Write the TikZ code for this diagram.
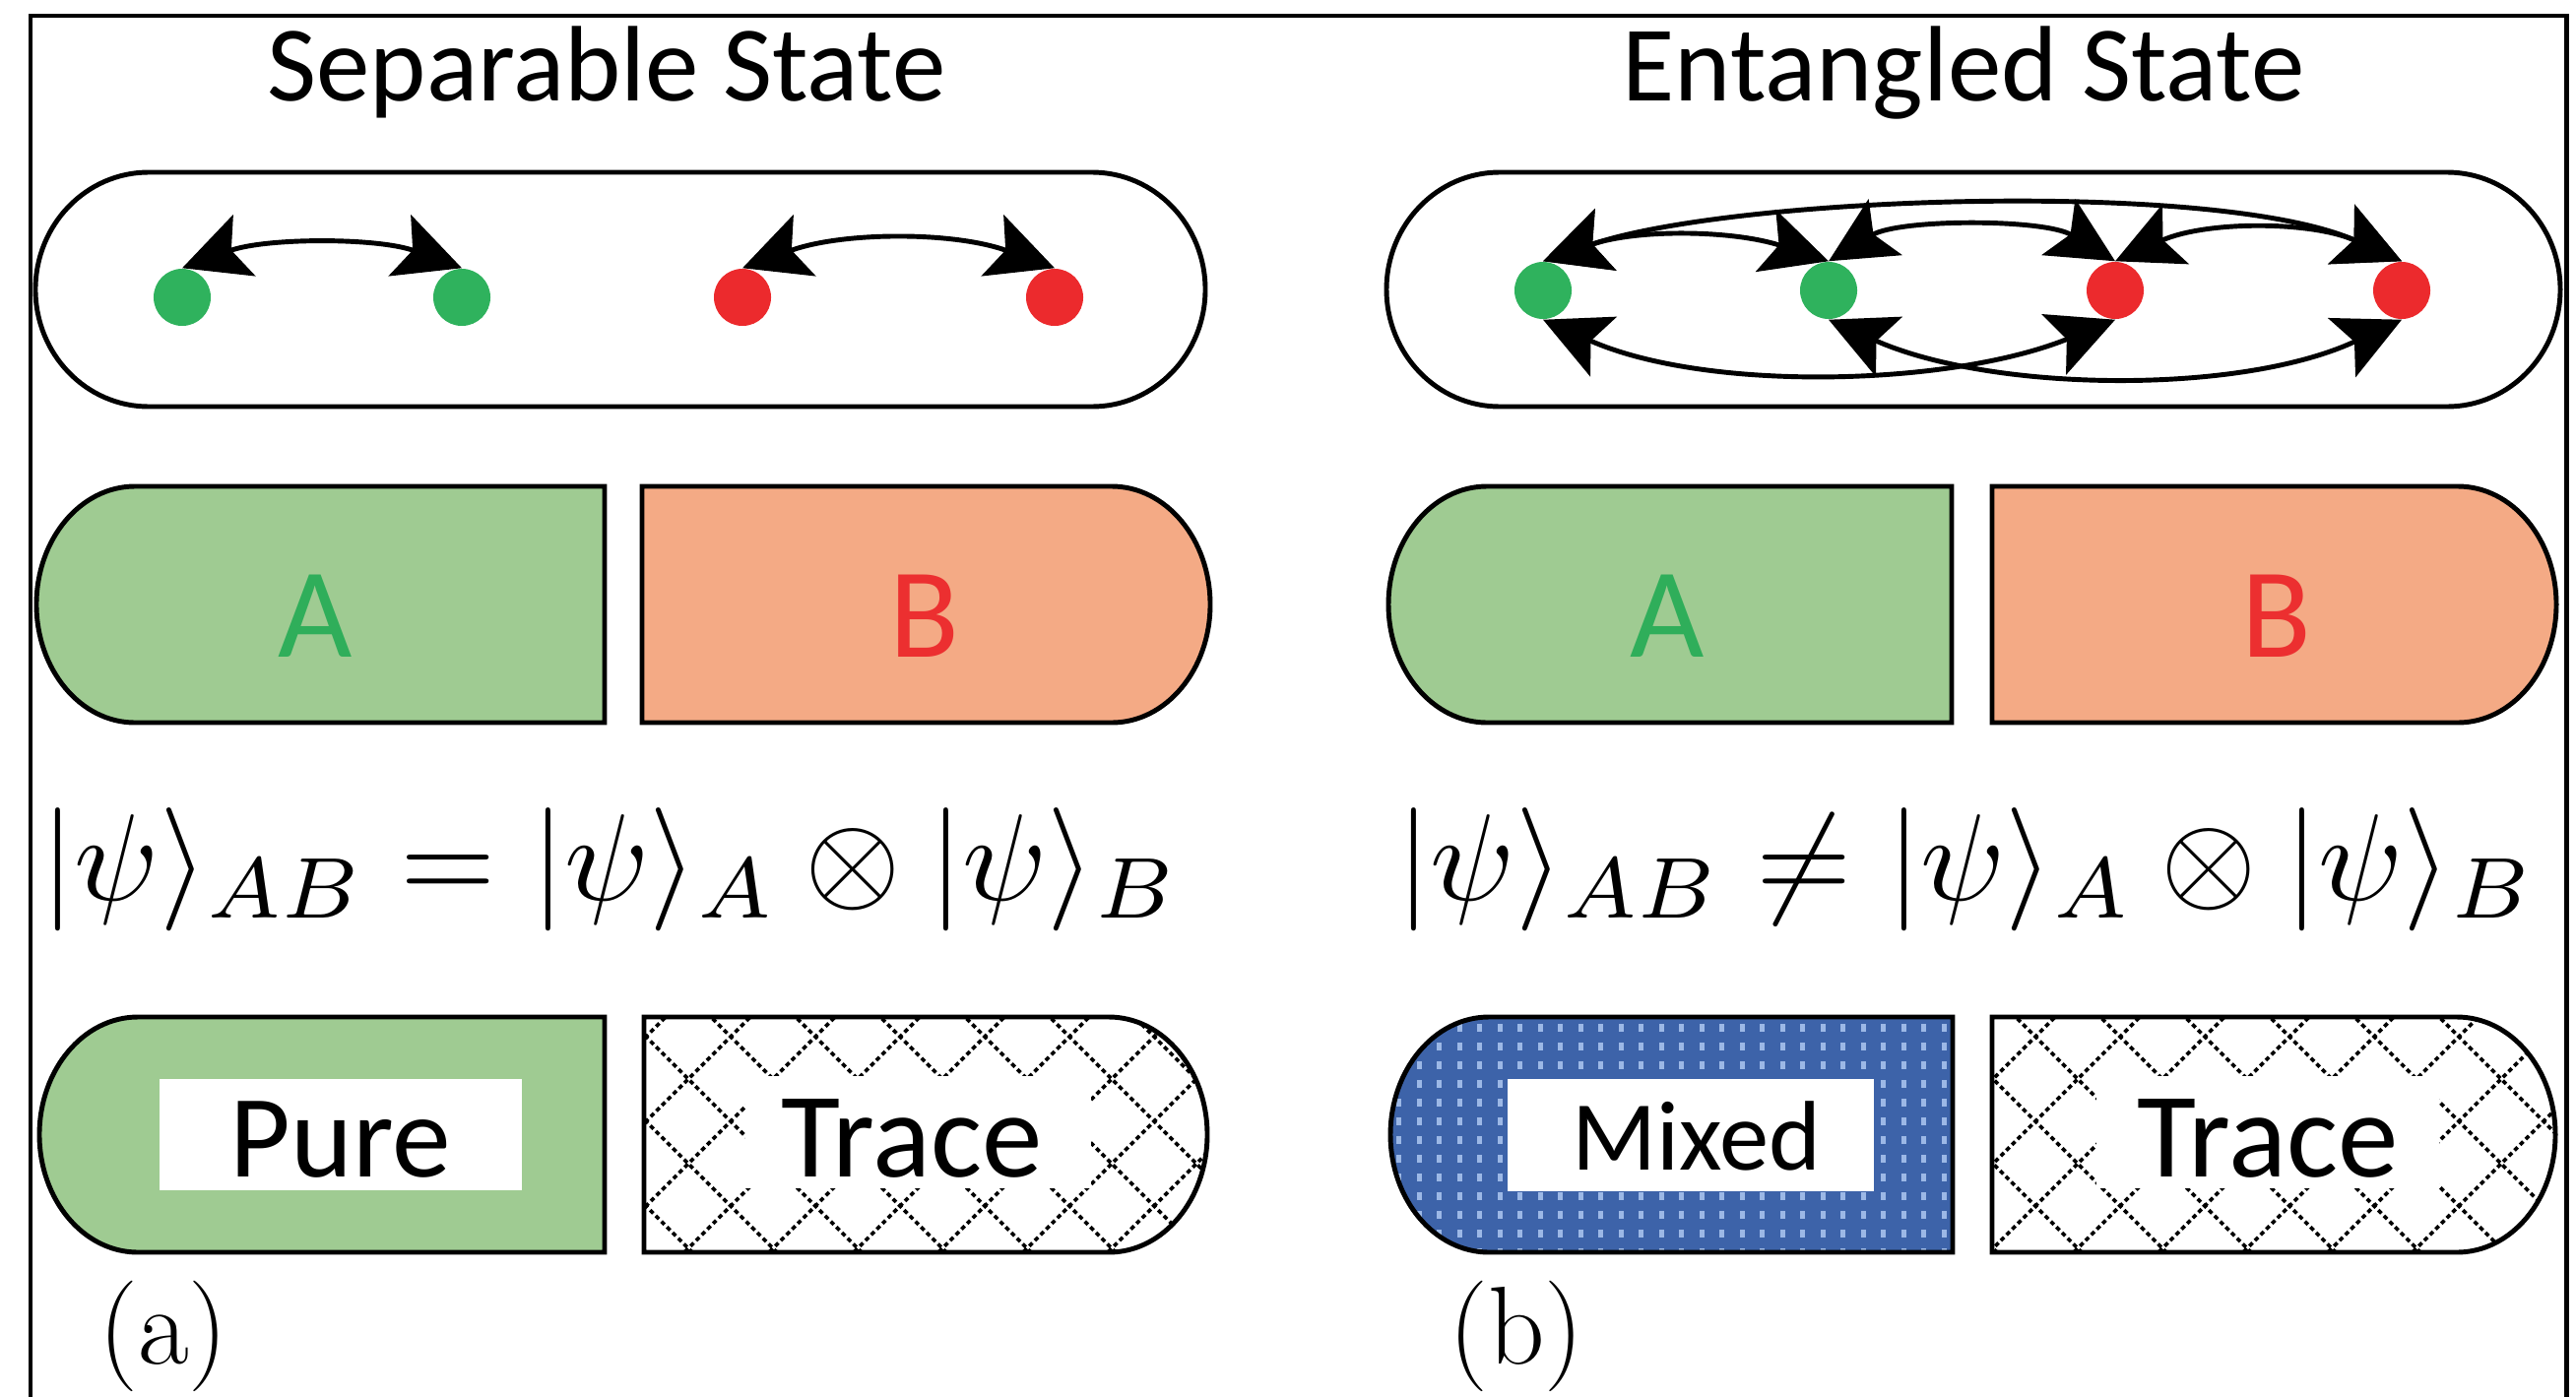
\documentclass[tikz,border=0pt]{standalone}
\usepackage{fontspec}
\newfontfamily\calfont{Carlito}
\usetikzlibrary{arrows.meta}
\definecolor{agreen}{HTML}{9FCB92}
\definecolor{bsalmon}{HTML}{F4AA85}
\definecolor{dotgreen}{HTML}{2FB25D}
\definecolor{dotred}{HTML}{EC2A2D}
\definecolor{lettgreen}{HTML}{2FAE5A}
\definecolor{lettred}{HTML}{EC2F30}
\definecolor{mixblue}{HTML}{3D63A9}
\definecolor{mixdot}{HTML}{9CB8E6}
\begin{document}
\begin{tikzpicture}[x=0.01cm,y=0.01cm,
  outl/.style={line width=1.4pt},
  gdot/.style={circle,fill=dotgreen,minimum size=0.58cm,inner sep=0pt},
  rdot/.style={circle,fill=dotred,minimum size=0.58cm,inner sep=0pt},
  arr/.style={line width=1.4pt,{Stealth[length=0.67cm,width=0.66cm,inset=0.14cm]}-{Stealth[length=0.67cm,width=0.66cm,inset=0.14cm]}},
  title/.style={font=\calfont\fontsize{31}{36}\selectfont,anchor=base,inner sep=0pt},
  letter/.style={font=\calfont\fontsize{37}{42}\selectfont,anchor=base,inner sep=0pt},
  boxtext/.style={font=\calfont\fontsize{34}{40}\selectfont,anchor=base,inner sep=0pt},
  formula/.style={anchor=base,inner sep=0pt},
  lab/.style={font=\fontsize{32}{36}\selectfont,anchor=base,inner sep=0pt},
  dotl/.style={line width=1.05pt,dash pattern=on 1.3pt off 1.0pt}
]
\useasboundingbox (0,0) rectangle (2616,-1418);
% frame
\draw[line width=1.4pt] (31,-1500) -- (31,-16) -- (2606,-16) -- (2606,-1500);

% titles
\node[title] (t1) at (616,-102) {Separable State};
\node[title] (t2) at (1994,-102) {Entangled State};

% top pills
\draw[outl] (151,-175) -- (1109,-175) arc[start angle=90,end angle=-90,x radius=115,y radius=119] -- (151,-413) arc[start angle=270,end angle=90,x radius=115,y radius=119] -- cycle;
\draw[outl] (1523,-175) -- (2485,-175) arc[start angle=90,end angle=-90,x radius=115,y radius=119] -- (1523,-413) arc[start angle=270,end angle=90,x radius=115,y radius=119] -- cycle;

% dots
\node[gdot] (lg1) at (185,-302) {};
\node[gdot] (lg2) at (469,-302) {};
\node[rdot] (lr1) at (754,-302) {};
\node[rdot] (lr2) at (1071,-302) {};
\node[gdot] (rg1) at (1567,-295) {};
\node[gdot] (rg2) at (1857,-295) {};
\node[rdot] (rr1) at (2148,-295) {};
\node[rdot] (rr2) at (2439,-295) {};

% arrows separable
\draw[arr] (lg1.north) to[out=20,in=160,looseness=0.82] (lg2.north);
\draw[arr] (lr1.north) to[out=20,in=160,looseness=0.88] (lr2.north);
% arrows entangled
\draw[arr] (rg1.north) to[out=19,in=156,looseness=0.6] (rr2.north);
\draw[arr] (rg1.north) to[out=19,in=162,looseness=0.9] (rg2.north);
\draw[arr] (rg2.north) to[out=31,in=149,looseness=0.74] (rr1.north);
\draw[arr] (rr1.north) to[out=24,in=156,looseness=0.89] (rr2.north);
\draw[arr] (rg1.south) to[out=-24,in=-158,looseness=0.8] (rr1.south);
\draw[arr] (rg2.south) to[out=-24,in=-155,looseness=0.8] (rr2.south);

% middle row
\filldraw[outl,fill=agreen] (614,-494) -- (137,-494) arc[start angle=90,end angle=270,x radius=100,y radius=120] -- (614,-734) -- cycle;
\filldraw[outl,fill=bsalmon] (652,-494) -- (1129,-494) arc[start angle=90,end angle=-90,x radius=100,y radius=120] -- (652,-734) -- cycle;
\filldraw[outl,fill=agreen] (1982,-494) -- (1510,-494) arc[start angle=90,end angle=270,x radius=100,y radius=120] -- (1982,-734) -- cycle;
\filldraw[outl,fill=bsalmon] (2023,-494) -- (2496,-494) arc[start angle=90,end angle=-90,x radius=100,y radius=120] -- (2023,-734) -- cycle;
\node[letter,text=lettgreen] (lA1) at (320,-667) {A};
\node[letter,text=lettred] (lB1) at (939,-667) {B};
\node[letter,text=lettgreen] (lA2) at (1693,-667) {A};
\node[letter,text=lettred] (lB2) at (2312,-667) {B};

% formulas
\node[formula] (f1) at (620,-914) {\scalebox{3.56}{$|\psi\rangle_{AB} = |\psi\rangle_A \otimes |\psi\rangle_B$}};
\node[formula] (f2) at (1997,-914) {\scalebox{3.56}{$|\psi\rangle_{AB} \neq |\psi\rangle_A \otimes |\psi\rangle_B$}};

% bottom row: Pure
\filldraw[outl,fill=agreen] (614,-1033) -- (140,-1033) arc[start angle=90,end angle=270,x radius=100,y radius=119.5] -- (614,-1272) -- cycle;
\fill[white] (162,-1096) rectangle (530,-1209);
\node[boxtext] (pure) at (346,-1195) {Pure};

% Trace left
\begin{scope}
\clip (654,-1033) -- (1126,-1033) arc[start angle=90,end angle=-90,x radius=100,y radius=119.5] -- (654,-1272) -- cycle;
\foreach \k in {-6,...,10} {
  \draw[dotl] ({742+86*\k-350},{-1053-350}) -- ({742+86*\k+350},{-1053+350});
  \draw[dotl] ({742+86*\k-350},{-1053+350}) -- ({742+86*\k+350},{-1053-350});
}
\end{scope}
\fill[white] (757,-1093) rectangle (1108,-1207);
\draw[outl] (654,-1033) -- (1126,-1033) arc[start angle=90,end angle=-90,x radius=100,y radius=119.5] -- (654,-1272) -- cycle;
\node[boxtext,font=\calfont\fontsize{35}{40}\selectfont] (tr1) at (926,-1195) {Trace};

% Mixed
\fill[mixblue] (1983,-1033) -- (1512,-1033) arc[start angle=90,end angle=270,x radius=100,y radius=119.5] -- (1983,-1272) -- cycle;
\begin{scope}
\clip (1983,-1033) -- (1512,-1033) arc[start angle=90,end angle=270,x radius=100,y radius=119.5] -- (1983,-1272) -- cycle;
\foreach \i in {0,...,28} {
  \foreach \j in {0,...,12} {
    \fill[mixdot] ({1418+20.5*\i},{-1040-19*\j}) rectangle ++(5,-8);
  }
}
\end{scope}
\draw[outl] (1983,-1033) -- (1512,-1033) arc[start angle=90,end angle=270,x radius=100,y radius=119.5] -- (1983,-1272) -- cycle;
\fill[white] (1531,-1096) rectangle (1903,-1210);
\node[boxtext,font=\calfont\fontsize{28.6}{34}\selectfont] (mixed) at (1723,-1188) {Mixed};

% Trace right
\begin{scope}
\clip (2023,-1033) -- (2495,-1033) arc[start angle=90,end angle=-90,x radius=100,y radius=119.5] -- (2023,-1272) -- cycle;
\foreach \k in {-6,...,10} {
  \draw[dotl] ({2067+86*\k-350},{-1053-350}) -- ({2067+86*\k+350},{-1053+350});
  \draw[dotl] ({2067+86*\k-350},{-1053+350}) -- ({2067+86*\k+350},{-1053-350});
}
\end{scope}
\fill[white] (2129,-1093) rectangle (2477,-1207);
\draw[outl] (2023,-1033) -- (2495,-1033) arc[start angle=90,end angle=-90,x radius=100,y radius=119.5] -- (2023,-1272) -- cycle;
\node[boxtext,font=\calfont\fontsize{35}{40}\selectfont] (tr2) at (2303,-1195) {Trace};

% labels
\node[lab] (labA) at (166,-1385) {(a)};
\node[lab] (labB) at (1540,-1385) {(b)};
\end{tikzpicture}
\end{document}
